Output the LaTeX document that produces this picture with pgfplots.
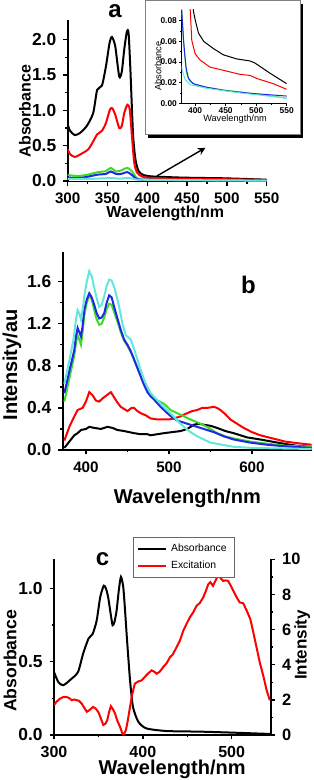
\documentclass[border=0pt]{standalone}
\usepackage{fontspec}
\setmainfont{Liberation Sans}
\usepackage{pgfplots}
\pgfplotsset{compat=1.18}
\definecolor{cgreen}{RGB}{60,220,40}
\definecolor{cblue}{RGB}{30,40,230}
\definecolor{ccyan}{RGB}{100,230,220}
\pgfplotsset{
  orig/.style={
    scale only axis,
    axis lines*=left,
    tick align=outside,
    axis line style={line width=0.8pt},
    every tick/.style={line width=0.7pt, black},
    major tick length=2.2pt,
    minor tick length=1.2pt,
    /pgf/number format/assume math mode=true,
    tick label style={font=\bfseries\fontsize{8.7}{9}\selectfont},
    xticklabel style={font=\bfseries\fontsize{7.6}{8}\selectfont},
    every axis plot/.append style={line width=1pt},
    minor x tick num=1, minor y tick num=1,
  },
  fix1/.style={yticklabel style={/pgf/number format/fixed,/pgf/number format/fixed zerofill,/pgf/number format/precision=1}},
}
\begin{document}
\begin{tikzpicture}
\useasboundingbox (0,0) rectangle (156.5pt,390pt);
% ---------------- panel a ----------------
\begin{axis}[orig, fix1, at={(33.85pt,299.15pt)}, anchor=south west,
  width=99.5pt, height=80.85pt,
  xmin=300, xmax=550, ymin=-0.01, ymax=2.28,
  xtick={300,350,400,450,500,550}, ytick={0,0.5,1.0,1.5,2.0},
  xlabel={Wavelength/nm}, ylabel={Absorbance},
  label style={font=\bfseries\fontsize{8}{9}\selectfont},
  xlabel style={at={(axis description cs:0.49,-0.194)}, anchor=center},
  ylabel style={at={(axis description cs:-0.215,0.437)}, anchor=center}]
\addplot[black, smooth, tension=0.4] coordinates {(300,0.80)(303,0.71)(309,0.65)(315.5,0.68)(324,0.78)(332,0.96)(337,1.29)(343,1.35)(348,1.62)(352.5,1.95)(355.5,2.04)(359.7,1.91)(364.7,1.48)(368,1.55)(371,1.86)(374.4,2.12)(376.5,2.09)(378.6,1.62)(382,0.68)(385,0.31)(389,0.14)(395,0.085)(405,0.065)(414,0.06)(430,0.053)(447,0.047)(474,0.042)(490,0.04)(520,0.03)(550,0.018)};
\addplot[red, smooth, tension=0.4] coordinates {(300,0.45)(303,0.38)(309,0.34)(318,0.39)(326,0.45)(332,0.56)(337,0.66)(343,0.71)(348,0.82)(353,1.01)(356,1.03)(359.7,0.94)(364.7,0.75)(368,0.78)(371,0.96)(375,1.08)(378,1.01)(381,0.59)(383.6,0.26)(387,0.12)(393,0.065)(400,0.048)(408,0.042)(424.5,0.035)(446,0.032)(473.6,0.028)(490,0.027)(501,0.024)(528,0.019)(550,0.0135)};
\addplot[cgreen, smooth, tension=0.4] coordinates {(300,0.085)(312.6,0.07)(325,0.09)(337.7,0.125)(348,0.14)(354,0.185)(360.7,0.135)(367,0.15)(375,0.185)(381.7,0.125)(386,0.05)(392,0.021)(403,0.017)(446,0.013)(501,0.009)(550,0.005)};
\addplot[cblue, smooth, tension=0.4] coordinates {(300,0.05)(312.6,0.04)(325,0.06)(337.7,0.09)(348,0.10)(354,0.135)(360.7,0.10)(367,0.10)(375,0.125)(381.7,0.075)(386,0.03)(389,0.024)(397,0.019)(419,0.0155)(452,0.012)(490,0.0097)(550,0.007)};
\addplot[ccyan, smooth, tension=0.4] coordinates {(300,0.03)(330,0.03)(355,0.042)(365,0.033)(376,0.045)(381,0.034)(386,0.02)(392,0.018)(419,0.0145)(474,0.010)(550,0.005)};
\draw[-stealth, line width=0.7pt] (axis cs:412,0.07) -- (axis cs:473,0.47);
\end{axis}
\node[font=\bfseries\fontsize{12}{12}\selectfont, inner sep=0pt] at (57.5pt,384.6pt) {a};
% inset frame
\fill[black] (74pt,321pt) rectangle (151.5pt,388pt);
\filldraw[fill=white, draw=gray, line width=0.5pt] (72.5pt,322.5pt) rectangle (150pt,389.5pt);
% ---------------- inset ----------------
\begin{axis}[scale only axis, axis lines*=left, tick align=outside,
  at={(90.85pt,338.35pt)}, anchor=south west, width=52.5pt, height=46.65pt,
  xmin=378, xmax=550, ymin=0, ymax=0.0904,
  scaled y ticks=false,
  xtick={400,450,500,550}, ytick={0,0.02,0.04,0.06,0.08},
  minor x tick num=1, minor y tick num=1,
  axis line style={line width=0.4pt}, every tick/.style={line width=0.3pt,black},
  major tick length=1.2pt, minor tick length=0.7pt,
  /pgf/number format/assume math mode=true,
  tick label style={font=\bfseries\fontsize{4.2}{5}\selectfont, inner sep=1pt},
  yticklabel style={/pgf/number format/fixed,/pgf/number format/fixed zerofill,/pgf/number format/precision=2},
  xlabel={Wavelength/nm}, ylabel={Absorbance},
  label style={font=\fontsize{4.6}{5}\selectfont, inner sep=0pt},
  xlabel style={at={(axis description cs:0.508,-0.168)}, anchor=center},
  ylabel style={at={(axis description cs:-0.225,0.40)}, anchor=center},
  every axis plot/.append style={line width=0.5pt}]
\addplot[black] coordinates {(394,0.15)(397,0.09)(400,0.081)(405.5,0.068)(414,0.060)(430,0.053)(446,0.047)(468,0.043)(490,0.041)(498,0.039)(523,0.029)(550,0.019)};
\addplot[red] coordinates {(390,0.12)(392,0.09)(394.5,0.061)(400,0.048)(408,0.042)(424.5,0.035)(446,0.032)(473.6,0.028)(490,0.027)(501,0.024)(528,0.019)(550,0.0135)};
\addplot[cgreen] coordinates {(376,0.12)(378,0.09)(382,0.052)(386,0.029)(392,0.021)(403,0.017)(446,0.013)(501,0.009)(550,0.005)};
\addplot[cblue] coordinates {(376,0.12)(378,0.09)(381,0.061)(385,0.035)(389,0.024)(397,0.019)(419,0.0155)(452,0.012)(490,0.0097)(550,0.007)};
\addplot[ccyan] coordinates {(376,0.04)(378,0.034)(383.6,0.023)(392,0.018)(419,0.0145)(474,0.010)(550,0.005)};
\end{axis}
% ---------------- panel b ----------------
\begin{axis}[orig, fix1, at={(31.35pt,165pt)}, anchor=south west,
  width=124.5pt, height=99.15pt,
  xmin=372, xmax=672, ymin=0, ymax=1.885,
  xtick={400,500,600}, ytick={0,0.4,0.8,1.2,1.6},
  xlabel={Wavelength/nm}, ylabel={Intensity/au},
  label style={font=\bfseries\fontsize{10}{11}\selectfont},
  xlabel style={at={(axis description cs:0.501,-0.242)}, anchor=center},
  ylabel style={at={(axis description cs:-0.204,0.429)}, anchor=center}]
\addplot[black] coordinates {(374,0.02)(380,0.08)(386,0.14)(390,0.16)(394,0.19)(400,0.20)(404,0.22)(410,0.21)(418,0.20)(422,0.21)(426,0.22)(432,0.21)(438,0.19)(446,0.18)(452,0.17)(458,0.16)(466,0.15)(474,0.15)(478,0.14)(486,0.15)(494,0.16)(504,0.17)(514,0.18)(522,0.20)(530,0.24)(536,0.25)(542,0.24)(550,0.23)(558,0.21)(568,0.18)(578,0.16)(594,0.12)(610,0.10)(624,0.08)(638,0.06)(654,0.04)(672,0.03)};
\addplot[red] coordinates {(374,0.09)(380,0.22)(386,0.32)(390,0.38)(396,0.40)(400,0.46)(404,0.55)(408,0.52)(412,0.47)(416,0.46)(420,0.49)(425,0.52)(430,0.55)(434,0.50)(438,0.45)(442,0.41)(446,0.39)(450,0.37)(455,0.40)(458,0.40)(462,0.37)(466,0.35)(472,0.33)(478,0.30)(486,0.29)(494,0.29)(500,0.29)(506,0.30)(514,0.32)(522,0.35)(528,0.37)(534,0.38)(540,0.40)(546,0.40)(554,0.41)(558,0.40)(562,0.38)(568,0.34)(574,0.29)(582,0.25)(590,0.21)(600,0.17)(610,0.14)(620,0.12)(630,0.10)(640,0.08)(650,0.07)(660,0.06)(672,0.05)};
\addplot[cgreen] coordinates {(374,0.46)(380,0.68)(386,0.90)(388,1.02)(390,1.09)(392,1.05)(394,1.00)(396,1.12)(398,1.28)(401,1.40)(404,1.47)(407,1.43)(410,1.33)(413,1.24)(416,1.19)(419,1.20)(422,1.26)(425,1.34)(428,1.39)(431,1.38)(434,1.31)(438,1.22)(442,1.12)(446,1.04)(450,0.99)(454,0.93)(458,0.86)(462,0.78)(466,0.70)(470,0.62)(474,0.57)(480,0.51)(486,0.47)(494,0.44)(502,0.38)(510,0.35)(518,0.32)(526,0.29)(538,0.25)(548,0.21)(558,0.16)(568,0.13)(578,0.11)(598,0.08)(618,0.06)(640,0.04)(672,0.03)};
\addplot[cblue] coordinates {(374,0.54)(380,0.75)(386,0.95)(388,1.08)(390,1.16)(392,1.12)(394,1.08)(396,1.18)(398,1.33)(401,1.43)(404,1.49)(407,1.45)(410,1.38)(413,1.30)(416,1.25)(419,1.26)(422,1.30)(425,1.40)(428,1.47)(431,1.45)(434,1.36)(438,1.25)(442,1.14)(446,1.05)(450,1.00)(454,0.94)(458,0.86)(462,0.78)(466,0.70)(470,0.62)(474,0.55)(478,0.51)(482,0.48)(490,0.41)(498,0.35)(504,0.31)(510,0.28)(522,0.25)(534,0.22)(546,0.19)(554,0.17)(566,0.13)(578,0.10)(598,0.07)(618,0.05)(640,0.035)(672,0.02)};
\addplot[ccyan] coordinates {(374,0.63)(380,0.85)(385,1.05)(388,1.24)(390,1.33)(392,1.30)(394,1.24)(396,1.33)(398,1.46)(401,1.60)(404,1.70)(407,1.65)(410,1.54)(413,1.44)(416,1.36)(419,1.38)(422,1.46)(425,1.56)(428,1.62)(431,1.61)(434,1.55)(437,1.46)(440,1.36)(444,1.20)(448,1.09)(451,1.07)(454,1.05)(458,0.96)(462,0.86)(466,0.76)(470,0.67)(474,0.60)(478,0.54)(484,0.49)(490,0.44)(496,0.39)(502,0.35)(510,0.28)(518,0.22)(526,0.17)(534,0.13)(542,0.10)(550,0.07)(564,0.05)(578,0.03)(600,0.02)(630,0.015)(672,0.01)};
\end{axis}
\node[font=\bfseries\fontsize{12}{12}\selectfont] at (124.2pt,247.5pt) {b};
% ---------------- panel c ----------------
\begin{axis}[orig, fix1, at={(27pt,22.5pt)}, anchor=south west,
  width=108.35pt, height=87.85pt,
  xmin=300, xmax=544, ymin=0, ymax=1.2,
  xtick={300,400,500}, ytick={0,0.5,1.0},
  xticklabel style={font=\bfseries\fontsize{8}{9}\selectfont},
  xlabel={Wavelength/nm}, ylabel={Absorbance},
  xlabel style={font=\bfseries\fontsize{10}{11}\selectfont, inner sep=0pt, at={(axis description cs:0.545,-0.198)}, anchor=center},
  ylabel style={font=\bfseries\fontsize{8.8}{10}\selectfont, at={(axis description cs:-0.203,0.422)}, anchor=center}]
\addplot[black, smooth, tension=0.4] coordinates {(300,0.43)(305,0.36)(310.5,0.34)(318,0.375)(327,0.43)(333,0.56)(339,0.66)(343.5,0.69)(348,0.78)(352,0.94)(356,1.02)(358.5,1.0)(361,0.94)(364,0.82)(366,0.75)(368,0.77)(370.5,0.85)(373,0.99)(375.4,1.08)(378,1.01)(380,0.85)(382,0.67)(385.6,0.375)(389,0.19)(395,0.09)(404,0.045)(427,0.027)(464,0.023)(502,0.016)(544,0.007)};
\end{axis}
\begin{axis}[orig, at={(27pt,22.5pt)}, anchor=south west,
  width=108.35pt, height=87.85pt,
  axis x line=none, axis y line*=right,
  xmin=300, xmax=544, ymin=0, ymax=10,
  ytick={0,2,4,6,8,10},
  yticklabel style={font=\bfseries\fontsize{8.2}{9}\selectfont},
  ylabel={Intensity},
  ylabel style={font=\bfseries\fontsize{8.5}{10}\selectfont, inner sep=0pt, at={(axis description cs:1.145,0.512)}, anchor=center},
  legend style={at={(axis description cs:0.363,1.125)}, anchor=north west, draw=gray!80!black, line width=0.4pt,
    font=\fontsize{5.2}{6}\selectfont, inner xsep=2pt, inner ysep=1.2pt, row sep=-1pt, cells={anchor=west}},
  legend image code/.code={\draw[#1] (0pt,0pt) -- (14pt,0pt);}]
\addlegendimage{black, line width=1pt}
\addlegendentry{Absorbance}
\addplot[red] coordinates {(300,1.7)(303,1.9)(306.8,2.07)(310,2.15)(314,2.17)(317,2.1)(320,1.98)(323,2.02)(325.5,1.98)(328,1.95)(331,1.8)(334,1.55)(337,1.32)(340,1.42)(344,1.6)(347,1.5)(350,1.3)(352,1.05)(355.5,0.57)(358,0.65)(360,0.85)(362,1.3)(364,1.64)(366,1.5)(368.7,1.23)(371,0.85)(374.3,0.47)(377.3,0.04)(379,0.08)(381,0.28)(383,0.8)(385.6,1.6)(388,2.3)(391,2.92)(395,3.05)(398.7,3.11)(404,3.4)(407,3.55)(410,3.68)(413,3.6)(415.6,3.49)(419,3.6)(423,3.87)(427,4.1)(430.6,4.43)(434,4.6)(438,5.0)(442,5.4)(445.6,5.94)(449,6.3)(453,6.7)(457,7.0)(460.6,7.36)(464,7.5)(468,7.83)(471,8.2)(473.7,8.58)(476,8.7)(479,8.49)(482,8.8)(485,9.1)(488,8.9)(490.6,8.77)(493,8.8)(496,8.77)(499,8.5)(502,8.2)(505,7.9)(509,7.55)(513,7.5)(517,7.08)(521,6.6)(524,5.94)(528,5.0)(532,4.06)(536,3.3)(539.4,2.55)(543,1.98)};
\addlegendentry{Excitation}
\end{axis}
\node[font=\bfseries\fontsize{12}{12}\selectfont] at (51.25pt,110.5pt) {c};
\end{tikzpicture}
\end{document}
